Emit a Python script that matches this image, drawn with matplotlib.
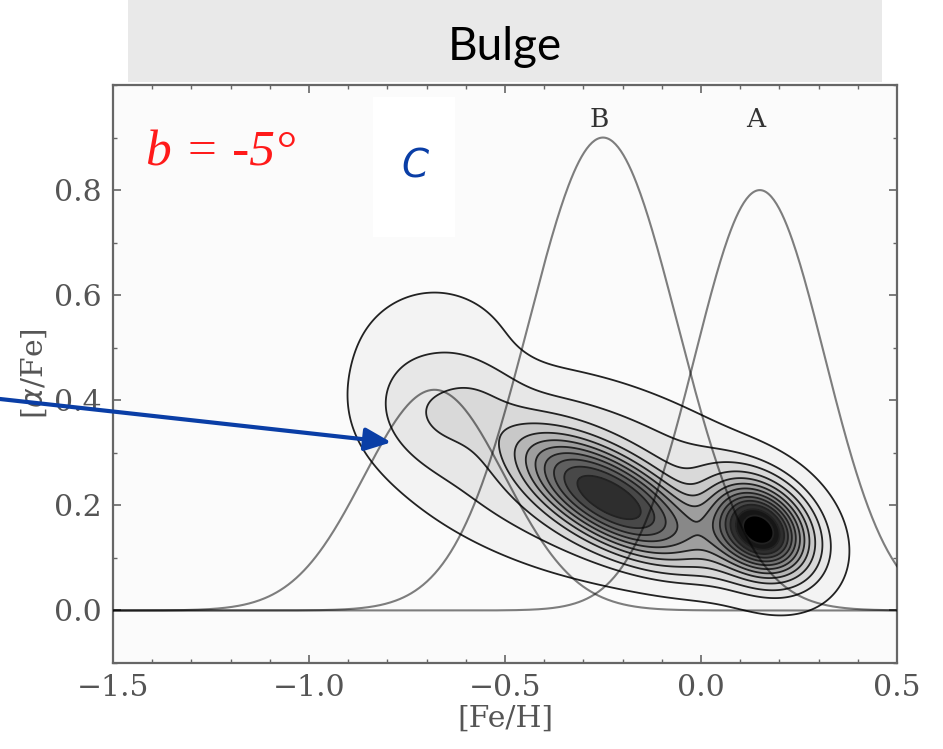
import numpy as np
import matplotlib.pyplot as plt
from matplotlib.patches import Rectangle
from matplotlib.ticker import MultipleLocator

# Gaussian curves drawn over the abundance plane: peak height, mean [Fe/H], width
curve_names = ['A', 'B', 'C']
curve_mean = [0.15, -0.25, -0.68]
curve_peak = [0.80, 0.90, 0.42]
curve_sigma = [0.165, 0.19, 0.18]

# 2D density components: centre, major/minor width, tilt (deg), amplitude, shape power
comp_x = [0.15, -0.235, -0.68, -0.30]
comp_y = [0.153, 0.215, 0.45, 0.255]
comp_major = [0.085, 0.18, 0.16, 0.46]
comp_minor = [0.065, 0.075, 0.16, 0.21]
comp_angle = [-40, -30, -10, -16]
comp_amp = [0.95, 0.66, 0.09, 0.12]
comp_power = [0.9, 1.2, 1.5, 2.5]

contour_levels = [0.03, 0.1, 0.16, 0.23, 0.3, 0.37, 0.44, 0.51, 0.58, 0.65,
                  0.72, 0.8, 0.9, 5.0]

xticks = [-1.5, -1.0, -0.5, 0.0, 0.5]
yticks = [0.0, 0.2, 0.4, 0.6, 0.8]

fig = plt.figure(figsize=(9.43, 7.49), dpi=100)
ax = fig.add_axes([0.1198, 0.1148, 0.8314, 0.7717])
ax.set_facecolor('#fbfbfb')

# density field
aspect = 526 / 392
gx, gy = np.meshgrid(np.linspace(-1.3, 0.7, 500), np.linspace(-0.2, 0.9, 400))
dens = np.zeros_like(gx)
for x0, y0, sa, sb, ang, amp, pw in zip(comp_x, comp_y, comp_major, comp_minor,
                                         comp_angle, comp_amp, comp_power):
    t = np.deg2rad(ang)
    u = gx - x0
    v = (gy - y0) * aspect
    a = u * np.cos(t) + v * np.sin(t)
    b = -u * np.sin(t) + v * np.cos(t)
    dens += amp * np.exp(-0.5 * ((a / sa) ** 2 + (b / sb) ** 2) ** pw)

greys = plt.get_cmap('Greys')
fills = [greys(v) for v in np.linspace(0.1, 1.0, len(contour_levels) - 1)]
ax.contourf(gx, gy, dens, levels=contour_levels, colors=fills, zorder=1)
ax.contour(gx, gy, dens, levels=contour_levels[:-1], colors='#222222',
           linewidths=1.3, zorder=2)

# gaussian curves
xs = np.linspace(-1.5, 0.5, 600)
for mu, pk, sg in zip(curve_mean, curve_peak, curve_sigma):
    ax.plot(xs, pk * np.exp(-0.5 * ((xs - mu) / sg) ** 2), color='black',
            alpha=0.5, lw=1.5, zorder=3)

for name, mu in zip(curve_names[:2], curve_mean[:2]):
    ax.text(mu - 0.01, 0.935, name, ha='center', va='center', fontsize=19,
            family='DejaVu Serif', color='#333333')

ax.add_patch(Rectangle((-0.837, 0.711), 0.209, 0.266, facecolor='white',
                       edgecolor='none', zorder=0.5))
ax.text(-0.73, 0.845, 'C', ha='center', va='center', fontsize=28,
        style='italic', color='#0a3ea6', family='DejaVu Sans')
ax.text(-1.415, 0.87, 'b = -5°', ha='left', va='center', fontsize=37,
        style='italic', color='#ff1a1a', family='Liberation Serif')

ax.set_xlim(-1.5, 0.5)
ax.set_ylim(-0.1, 1.0)
ax.set_xticks(xticks)
ax.set_yticks(yticks)
ax.xaxis.set_minor_locator(MultipleLocator(0.1))
ax.yaxis.set_minor_locator(MultipleLocator(0.1))
ax.tick_params(which='both', direction='in', top=True, right=True,
               color='#666666', labelcolor='#555555', labelsize=21.5, pad=8)
ax.tick_params(which='major', length=6, width=1.2)
ax.tick_params(which='minor', length=3, width=1.0)
for lab in ax.get_xticklabels() + ax.get_yticklabels():
    lab.set_family('DejaVu Serif')
for sp in ax.spines.values():
    sp.set_color('#666666')
    sp.set_linewidth(1.6)

ax.set_xlabel('[Fe/H]', family='DejaVu Serif', fontsize=21.5,
              color='#555555', labelpad=2)
ax.set_ylabel(r'[$\alpha$/Fe]', family='DejaVu Serif', fontsize=21.5,
              color='#555555', labelpad=4)

# header bar
fig.patches.append(Rectangle((0.1357, 0.8905), 0.7996, 0.12,
                             transform=fig.transFigure, facecolor='#e9e9e9',
                             edgecolor='none', zorder=0))
fig.text(0.5355, 0.937, 'Bulge', ha='center', va='center', fontsize=33,
         family='Lato', color='black')

# arrow from the left margin
ax.annotate('', xy=(-0.79, 0.32), xycoords='data',
            xytext=(0.0, 350 / 749), textcoords='figure fraction',
            arrowprops=dict(arrowstyle='-|>,head_length=1.6,head_width=0.7',
                            color='#0a3ea6', lw=3, shrinkA=0, shrinkB=0),
            annotation_clip=False, zorder=5)

fig.savefig('out.png', dpi=100)
